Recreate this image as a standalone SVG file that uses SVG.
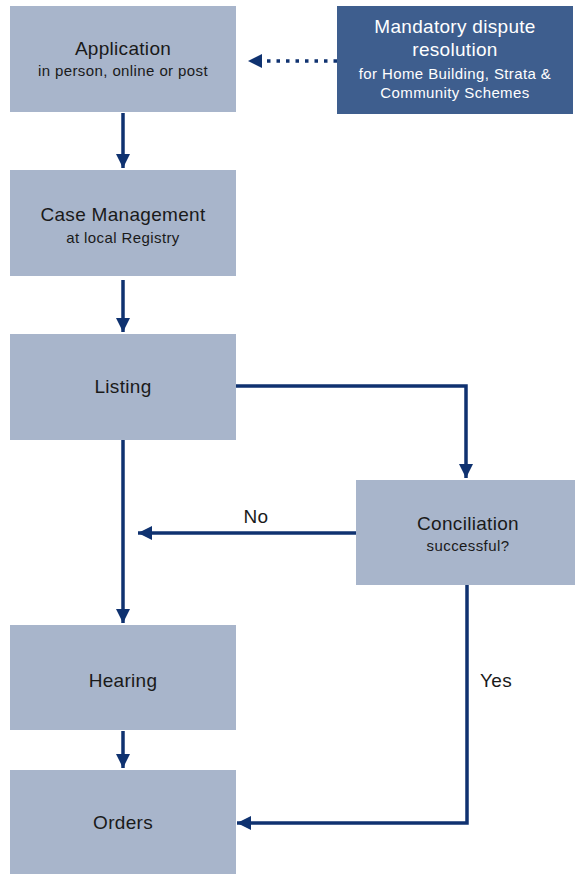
<svg xmlns="http://www.w3.org/2000/svg" width="575" height="874" viewBox="0 0 575 874">
<style>
.box{fill:#a8b5cb}
.dark{fill:#3e5e8e}
.t{font-family:"Liberation Sans",Arial,sans-serif;font-size:19px;fill:#1a1a1a;text-anchor:middle;letter-spacing:0.3px}
.s{font-family:"Liberation Sans",Arial,sans-serif;font-size:15px;fill:#1a1a1a;text-anchor:middle;letter-spacing:0.4px}
.w{fill:#ffffff}
.c{fill:none;stroke:#0f3270;stroke-width:3.5}
.d{fill:none;stroke:#0f3270;stroke-width:3.5;stroke-dasharray:3.5 6}
</style>
<defs>
<marker id="ah" viewBox="0 0 10 10" refX="10" refY="5" markerWidth="4" markerHeight="4" markerUnits="strokeWidth" orient="auto">
<path d="M0,0 L10,5 L0,10 z" fill="#0f3270"/>
</marker>
</defs>
<rect width="575" height="874" fill="#ffffff"/>
<g id="connectors">
<path class="d" d="M337,61 L262,61"/>
<path d="M262,54 L248,61 L262,68 z" fill="#0f3270"/>
<path class="c" d="M123,113 L123,168" marker-end="url(#ah)"/>
<path class="c" d="M123,280 L123,332" marker-end="url(#ah)"/>
<path class="c" d="M236,386 L466,386 L466,478" marker-end="url(#ah)"/>
<path class="c" d="M356,533 L138,533" marker-end="url(#ah)"/>
<path class="c" d="M123,440 L123,623" marker-end="url(#ah)"/>
<path class="c" d="M123,731 L123,768" marker-end="url(#ah)"/>
<path class="c" d="M467,585 L467,823 L237,823" marker-end="url(#ah)"/>
<text class="t" x="256" y="523">No</text>
<text class="t" x="496" y="687">Yes</text>
</g>
<g id="application">
<rect class="box" x="10" y="6" width="226" height="106"/>
<text class="t" x="123" y="55">Application</text>
<text class="s" x="123" y="76">in person, online or post</text>
</g>
<g id="mandatory">
<rect class="dark" x="337" y="6" width="236" height="108"/>
<text class="t w" x="455" y="33">Mandatory dispute</text>
<text class="t w" x="455" y="56">resolution</text>
<text class="s w" x="455" y="79">for Home Building, Strata &amp;</text>
<text class="s w" x="455" y="98">Community Schemes</text>
</g>
<g id="case">
<rect class="box" x="10" y="170" width="226" height="106"/>
<text class="t" x="123" y="221">Case Management</text>
<text class="s" x="123" y="243">at local Registry</text>
</g>
<g id="listing">
<rect class="box" x="10" y="334" width="226" height="106"/>
<text class="t" x="123" y="393">Listing</text>
</g>
<g id="conciliation">
<rect class="box" x="356" y="480" width="219" height="105"/>
<text class="t" x="468" y="530">Conciliation</text>
<text class="s" x="468" y="551">successful?</text>
</g>
<g id="hearing">
<rect class="box" x="10" y="625" width="226" height="105"/>
<text class="t" x="123" y="687">Hearing</text>
</g>
<g id="orders">
<rect class="box" x="10" y="770" width="226" height="104"/>
<text class="t" x="123" y="829">Orders</text>
</g>
</svg>
